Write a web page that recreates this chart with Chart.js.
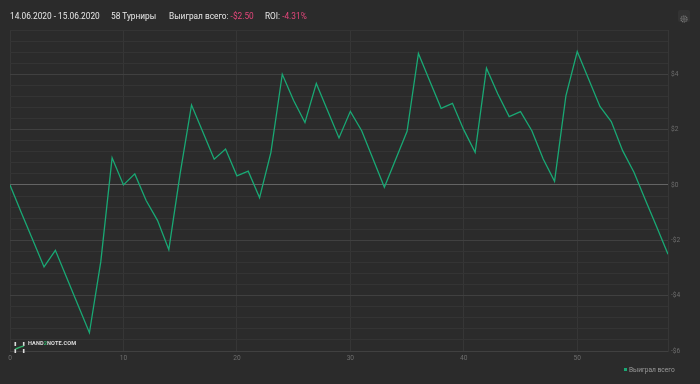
<!DOCTYPE html>
<html>
<head>
<meta charset="utf-8">
<script src="https://cdn.jsdelivr.net/npm/chart.js@4"></script>
<style>
  html, body { margin: 0; padding: 0; background: #2b2b2b; }
  #wrap { position: relative; width: 700px; height: 384px; font-family: Roboto, "Noto Sans", sans-serif; }
  #chart { position: absolute; left: 0; top: 0; }
  .hdr { position: absolute; top: 10px; font-size: 8.3px; color: #e8e8e8; white-space: nowrap; line-height: 12px; }
  .neg { color: #e5467b; }
  #gear { position: absolute; left: 678px; top: 10px; width: 12px; height: 12px; border-radius: 2px; background: #333; }
  #mark { position: absolute; left: 14px; top: 338px; height: 11px; }
  #mark span { position: absolute; left: 14px; top: 1px; font-size: 5.6px; font-weight: 700; color: #ddd; letter-spacing: 0.1px; white-space: nowrap; line-height: 9px; }
  #legend { position: absolute; left: 624px; top: 365px; font-size: 6.6px; color: #9a9a9a; white-space: nowrap; line-height: 10px; }
  #legend i { display: inline-block; width: 2.5px; height: 2.5px; background: #19a874; margin-right: 2.5px; vertical-align: middle; position: relative; top: -1px; }
</style>
</head>
<body>
<div id="wrap">
  <canvas id="chart" width="700" height="384"></canvas>
  <div class="hdr" style="left:10px">14.06.2020 - 15.06.2020</div>
  <div class="hdr" style="left:111px">58 Турниры</div>
  <div class="hdr" style="left:169px">Выиграл всего: <span class="neg">-$2.50</span></div>
  <div class="hdr" style="left:265px">ROI: <span class="neg">-4.31%</span></div>
  <div id="gear">
    <svg width="12" height="12" viewBox="0 0 12 12">
      <circle cx="6" cy="6" r="3" fill="none" stroke="#777" stroke-width="1.2" stroke-dasharray="1.2 0.6"/>
      <circle cx="6" cy="6" r="1.2" fill="none" stroke="#777" stroke-width="0.8"/>
    </svg>
  </div>
  <div id="mark">
    <svg width="11" height="11" viewBox="0 0 11 11">
      <rect x="0.5" y="0" width="1.6" height="4" fill="#ddd"/>
      <rect x="0.5" y="7" width="1.6" height="4" fill="#ddd"/>
      <rect x="8.9" y="0" width="1.6" height="4" fill="#ddd"/>
      <rect x="8.9" y="7" width="1.6" height="4" fill="#ddd"/>
      <path d="M1.3 6.8 C4 6.8 6 4.2 9.7 4.2" stroke="#2fb36a" stroke-width="1.4" fill="none"/>
    </svg>
    <span>HAND<span style="position:static;color:#2fb36a">2</span>NOTE.COM</span>
  </div>
  <div id="legend"><i></i>Выиграл всего</div>
</div>
<script>
/* ── cumulative winnings per tournament ── */
const winnings = [
   0.00, -1.00, -1.98, -2.96, -2.36, -3.35, -4.35, -5.34, -2.78,  0.98,
   0.00,  0.40, -0.56, -1.28, -2.34,  0.42,  2.89,  1.91,  0.93,  1.30,
   0.33,  0.50, -0.46,  1.18,  4.00,  3.05,  2.26,  3.67,  2.68,  1.70,
   2.66,  1.96,  0.94, -0.08,  0.93,  1.94,  4.75,  3.76,  2.77,  2.95,
   1.99,  1.18,  4.22,  3.29,  2.47,  2.65,  1.96,  0.94,  0.13,  3.22,
   4.82,  3.83,  2.84,  2.29,  1.24,  0.46, -0.53, -1.51, -2.50
];
const tourneyIdx = winnings.map((_, i) => i);

const xTicks      = [0, 10, 20, 30, 40, 50];
const yLabelTicks = [-6, -4, -2, 0, 2, 4];
const yMin = -6, yMax = 5.6, yMinorStep = 0.4;

const isMajor = v => yLabelTicks.some(t => Math.abs(t - v) < 1e-6);

function yGridTicks() {
  const out = [];
  const n = Math.round((yMax - yMin) / yMinorStep);
  for (let k = 0; k <= n; k++) out.push({ value: +(yMin + k * yMinorStep).toFixed(2) });
  return out;
}

const tickFont = { family: 'Roboto', size: 6.6 };

new Chart(document.getElementById('chart'), {
  type: 'line',
  data: {
    datasets: [{
      label: 'Выиграл всего',
      data: tourneyIdx.map(i => ({ x: i, y: winnings[i] })),
      borderColor: '#19a874',
      borderWidth: 1.3,
      pointRadius: 0,
      tension: 0,
      fill: false,
    }]
  },
  options: {
    responsive: false,
    animation: false,
    events: [],
    layout: { padding: { left: 10, top: 30, right: 0, bottom: 0 } },
    plugins: { legend: { display: false }, tooltip: { enabled: false } },
    scales: {
      x: {
        type: 'linear',
        min: 0,
        max: tourneyIdx[tourneyIdx.length - 1],
        afterBuildTicks: ax => { ax.ticks = xTicks.map(v => ({ value: v })); },
        afterFit: ax => { ax.height = 33; },
        grid: { color: '#363636', drawTicks: false },
        border: { display: false },
        ticks: { color: '#6e6e6e', font: tickFont, padding: 3, maxRotation: 0, autoSkip: false },
      },
      y: {
        position: 'right',
        min: yMin,
        max: yMax,
        afterBuildTicks: ax => { ax.ticks = yGridTicks(); },
        afterFit: ax => { ax.width = 32; },
        grid: {
          drawTicks: false,
          color: ctx => {
            const v = ctx.tick.value;
            if (Math.abs(v) < 1e-6) return '#646464';
            if (isMajor(v)) return '#404040';
            return '#343434';
          },
        },
        border: { display: true, color: '#363636' },
        ticks: {
          color: '#6e6e6e', font: tickFont, padding: 3, autoSkip: false,
          callback: v => {
            if (!isMajor(v)) return '';
            const r = Math.round(v);
            return (r < 0 ? '-$' : '$') + Math.abs(r);
          },
        },
      },
    },
  },
});
</script>
</body>
</html>
